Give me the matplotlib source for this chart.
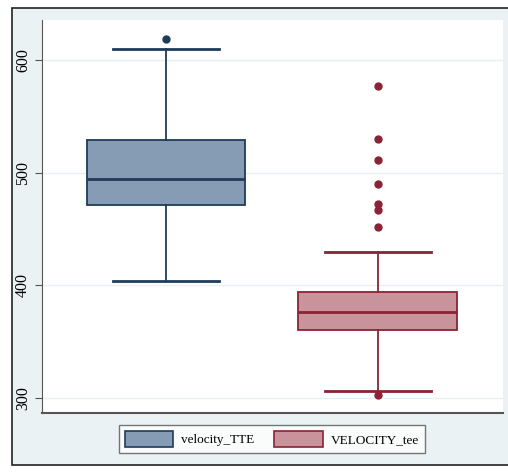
import matplotlib.pyplot as plt
from matplotlib.patches import Rectangle, Patch

# summary values
groups = ["velocity_TTE", "VELOCITY_tee"]
q1 = [471, 360]
medians = [494, 376]
q3 = [529, 394]
whisker_low = [404, 306]
whisker_high = [610, 430]
outliers = [[619], [577, 530, 511, 490, 472, 467, 452, 303]]
yticks = [300, 400, 500, 600]

fills = ["#869cb5", "#c9939b"]
edges = ["#1f3b5a", "#8a2335"]
bg = "#eaf2f4"

plt.rcParams['font.family'] = ['Liberation Serif', 'DejaVu Serif']

fig = plt.figure(figsize=(5.08, 4.75), dpi=100)
fig.patch.set_facecolor("white")
# outer stata-like frame
fig.patches.append(Rectangle((12 / 508, 1 - 465 / 475), 1, (465 - 8) / 475,
                             transform=fig.transFigure, facecolor=bg,
                             edgecolor="#222222", linewidth=1.2, zorder=-10))

ax = fig.add_axes([42 / 508, 1 - 413 / 475, 461 / 508, 393 / 475])
ax.set_facecolor("white")

stats = []
for i in range(len(groups)):
    stats.append(dict(med=medians[i], q1=q1[i], q3=q3[i], whislo=whisker_low[i],
                      whishi=whisker_high[i], fliers=outliers[i], label=groups[i]))

positions = [1, 2]
for i, s in enumerate(stats):
    ax.bxp([s], positions=[positions[i]], widths=0.75, capwidths=0.5,
           patch_artist=True, showfliers=True,
           boxprops=dict(facecolor=fills[i], edgecolor=edges[i], linewidth=1.3),
           medianprops=dict(color=edges[i], linewidth=2),
           whiskerprops=dict(color=edges[i], linewidth=1.3),
           capprops=dict(color=edges[i], linewidth=2),
           flierprops=dict(marker="o", markersize=5, markerfacecolor=edges[i],
                           markeredgecolor=edges[i]))

ax.set_xlim(0.415, 2.59)
ax.set_ylim(286.7, 635.5)
ax.set_yticks(yticks)
ax.set_yticklabels([str(t) for t in yticks], rotation=90, va="center", fontsize=11.5)
ax.set_xticks([])
ax.grid(axis="y", color="#e8eff1", linewidth=1)
ax.set_axisbelow(True)
for side in ["top", "right"]:
    ax.spines[side].set_visible(False)
ax.spines["left"].set_color("#555555")
ax.spines["bottom"].set_color("#555555")
ax.spines["bottom"].set_linewidth(1.5)
ax.tick_params(axis="y", length=5, color="#555555", pad=3)

handles = [Patch(facecolor=fills[i], edgecolor=edges[i], linewidth=1.2) for i in range(2)]
leg = fig.legend(handles, groups, loc="center", bbox_to_anchor=(272 / 508, 1 - 439 / 475),
                 ncol=2, frameon=True, fancybox=False, fontsize=9.5,
                 handlelength=3.7, handleheight=1.5, columnspacing=1.5,
                 borderpad=0.45, handletextpad=0.6, borderaxespad=0)
leg.get_frame().set_edgecolor("#555555")
leg.get_frame().set_linewidth(1.0)

fig.savefig("out.png", dpi=100, facecolor=fig.get_facecolor())
